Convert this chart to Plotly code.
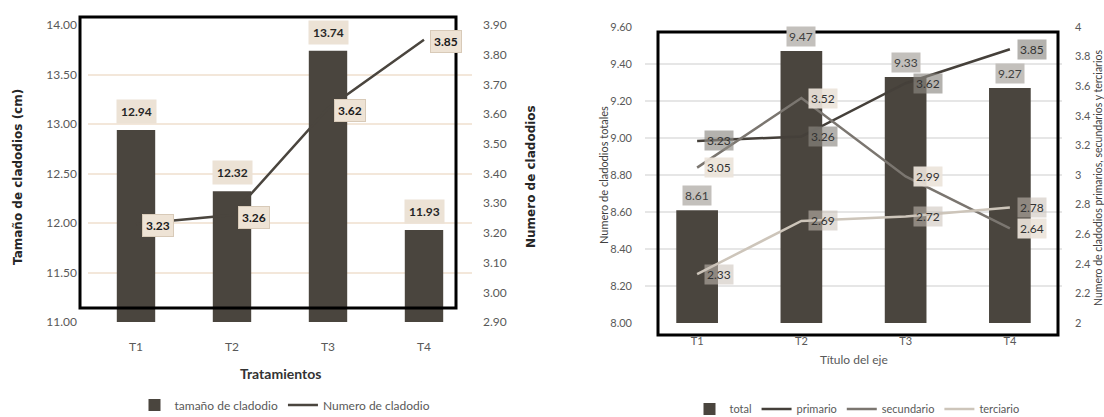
import plotly.graph_objects as go

# ---------------- data ----------------
tratamientos = ["T1", "T2", "T3", "T4"]
tamano_cladodio = [12.94, 12.32, 13.74, 11.93]
numero_cladodio = [3.23, 3.26, 3.62, 3.85]

total = [8.61, 9.47, 9.33, 9.27]
primario = [3.23, 3.26, 3.62, 3.85]
secundario = [3.05, 3.52, 2.99, 2.64]
terciario = [2.33, 2.69, 2.72, 2.78]

W, H = 1104, 417
def px(x): return x / W
def py(y): return 1 - y / H

DARK = "#4a453e"
MID = "#7b7670"
LIGHT = "#cdc5ba"
NARROW = "Liberation Sans Narrow, Arial Narrow, Lato, sans-serif"
CAL = "Lato, Open Sans, sans-serif"

fig = go.Figure()

# ---------------- left chart ----------------
fig.add_trace(go.Bar(x=tratamientos, y=tamano_cladodio, name="tamaño de cladodio",
                     marker=dict(color=DARK, line=dict(width=0)), width=0.4,
                     xaxis="x", yaxis="y", legend="legend"))
fig.add_trace(go.Scatter(x=tratamientos, y=numero_cladodio, name="Numero de cladodio",
                         mode="lines", line=dict(color=DARK, width=2.5),
                         xaxis="x", yaxis="y2", legend="legend"))

# ---------------- right chart ----------------
fig.add_trace(go.Bar(x=tratamientos, y=total, name="total",
                     marker=dict(color=DARK, line=dict(width=0)), width=0.4,
                     xaxis="x2", yaxis="y3", legend="legend2"))
for name, vals, col in [("primario", primario, "#45403a"),
                        ("secundario", secundario, MID),
                        ("terciario", terciario, LIGHT)]:
    fig.add_trace(go.Scatter(x=tratamientos, y=vals, name=name, mode="lines",
                             line=dict(color=col, width=2.5),
                             xaxis="x2", yaxis="y4", legend="legend2"))

annotations = []
# left bar labels
for c, v in zip(tratamientos, tamano_cladodio):
    annotations.append(dict(x=c, y=v, xref="x", yref="y", text=f"{v:.2f}",
                            showarrow=False, yanchor="bottom", yshift=6,
                            bgcolor="#ece2d5", borderpad=4,
                            font=dict(family=NARROW, size=12, color="#262626", weight="bold")))
# left line labels
for c, v in zip(tratamientos, numero_cladodio):
    annotations.append(dict(x=c, y=v, xref="x", yref="y2", text=f"{v:.2f}",
                            showarrow=False, xanchor="left", yanchor="middle", xshift=6, yshift=-2,
                            bgcolor="#eee3d5", bordercolor="#d8cab8", borderwidth=1, borderpad=3,
                            font=dict(family=NARROW, size=12, color="#1a1a1a", weight="bold")))
# right bar labels
for c, v in zip(tratamientos, total):
    annotations.append(dict(x=c, y=v, xref="x2", yref="y3", text=f"{v:.2f}",
                            showarrow=False, yanchor="bottom", yshift=4,
                            bgcolor="#c3c0bc", borderpad=2,
                            font=dict(family=CAL, size=12, color="#404040")))
# right line labels
for vals, bg in [(primario, "rgba(140,136,131,0.65)"),
                 (secundario, "rgba(236,228,218,0.92)"),
                 (terciario, "rgba(200,192,182,0.55)")]:
    for c, v in zip(tratamientos, vals):
        annotations.append(dict(x=c, y=v, xref="x2", yref="y4", text=f"{v:.2f}",
                                showarrow=False, xanchor="left", yanchor="middle", xshift=7,
                                bgcolor=bg, borderpad=2,
                                font=dict(family=CAL, size=12, color="#333333")))

# axis titles
title_defs = [
    (18, 177, "Tamaño de cladodios (cm)", -90,
     dict(family="DejaVu Sans", size=12, color="#262626", weight="bold")),
    (531, 177, "Numero de cladodios", -90,
     dict(family="DejaVu Sans", size=12, color="#262626", weight="bold")),
    (280, 373, "Tratamientos", 0,
     dict(family=NARROW, size=14, color="#333333", weight="bold")),
    (854, 359, "Título del eje", 0, dict(family=CAL, size=12, color="#595959")),
    (603, 175, "Numero de cladodios totales", -90, dict(family=CAL, size=11, color="#404040")),
    (1098, 178, "Numero de cladodios primarios, secundarios y terciarios", -90,
     dict(family=CAL, size=10.5, color="#404040")),
]
for x, y, t, ang, f in title_defs:
    annotations.append(dict(x=px(x), y=py(y), xref="paper", yref="paper", text=t,
                            textangle=ang, showarrow=False, xanchor="center",
                            yanchor="middle", font=f))

shapes = [
    dict(type="rect", xref="paper", yref="paper", x0=px(80), x1=px(456), y0=py(308), y1=py(17),
         line=dict(color="black", width=3), layer="above"),
    dict(type="rect", xref="paper", yref="paper", x0=px(658), x1=px(1058), y0=py(335), y1=py(32),
         line=dict(color="black", width=3), layer="above"),
]

tickfont_l = dict(family=NARROW, size=12, color="#595959")
tickfont_r = dict(family=CAL, size=11, color="#595959")

fig.update_layout(
    width=W, height=H, margin=dict(l=0, r=0, t=0, b=0, autoexpand=False),
    paper_bgcolor="white", plot_bgcolor="white",
    barmode="overlay", showlegend=True,
    xaxis=dict(domain=[px(88), px(472)], anchor="y", range=[-0.5, 3.5], automargin=False,
               showgrid=False, zeroline=False, showline=False,
               tickfont=tickfont_l, ticklabelstandoff=16),
    yaxis=dict(domain=[py(322), py(25)], anchor="x", range=[11, 14], dtick=0.5, automargin=False,
               tickformat=".2f", showgrid=True, gridcolor="#f3e7da", gridwidth=1.5,
               zeroline=False, showline=False, tickfont=tickfont_l, ticklabelstandoff=10),
    yaxis2=dict(overlaying="y", side="right", anchor="x", range=[2.9, 3.9], dtick=0.1,
                automargin=False,
                tickformat=".2f", showgrid=False, zeroline=False, showline=False,
                tickfont=tickfont_l, ticklabelstandoff=10),
    xaxis2=dict(domain=[px(645), px(1062)], anchor="y3", range=[-0.5, 3.5], automargin=False,
                showgrid=False, zeroline=False, showline=False,
                tickfont=tickfont_r, ticklabelstandoff=10),
    yaxis3=dict(domain=[py(323), py(27)], anchor="x2", range=[8, 9.6], dtick=0.2,
                automargin=False,
                tickformat=".2f", showgrid=True, gridcolor="#e6e6e6", gridwidth=1.5,
                zeroline=False, showline=False, tickfont=tickfont_r, ticklabelstandoff=12),
    yaxis4=dict(overlaying="y3", side="right", anchor="x2", range=[2, 4], dtick=0.2,
                automargin=False,
                showgrid=False, zeroline=False, showline=False,
                tickfont=tickfont_r, ticklabelstandoff=12),
    legend=dict(orientation="h", x=px(285), y=py(405), xanchor="center", yanchor="middle",
                font=dict(family=NARROW, size=12, color="#595959"), bgcolor="rgba(0,0,0,0)"),
    legend2=dict(orientation="h", x=px(857), y=py(409), xanchor="center", yanchor="middle",
                 font=dict(family=CAL, size=11, color="#595959"), bgcolor="rgba(0,0,0,0)"),
    annotations=annotations, shapes=shapes,
)

fig.write_html("out.html")
